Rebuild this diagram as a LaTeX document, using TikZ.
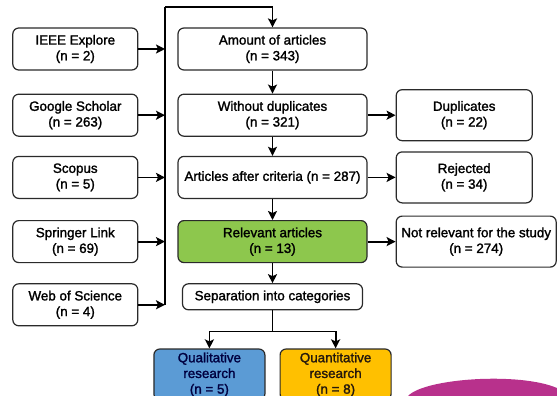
\documentclass[tikz,border=0pt]{standalone}
\usepackage{fontspec}
\setmainfont{Liberation Sans}
\newfontfamily\boxfont[FakeBold=1.6]{Liberation Sans}
\usetikzlibrary{positioning,arrows.meta}
\definecolor{relgreen}{HTML}{8DC74D}
\definecolor{qualblue}{HTML}{5B9BD5}
\definecolor{quantyellow}{HTML}{FFC000}
\definecolor{blobpink}{HTML}{B8318C}
\definecolor{boxline}{HTML}{2A2A2A}
\begin{document}
\begin{tikzpicture}[x=1pt,y=-1pt,
    box/.style={draw=boxline, rounded corners=6pt, line width=1.2pt, align=center,
      inner sep=1pt, font=\boxfont\fontsize{13.4}{15.7}\selectfont},
    mainbox/.style={box, minimum width=189pt, minimum height=42pt},
    srcbox/.style={box, minimum width=125pt, minimum height=42pt},
    outbox/.style={box, minimum width=136pt, minimum height=51pt},
    catbox/.style={box, minimum width=111pt, minimum height=51pt},
    link/.style={line width=1.8pt},
    conn/.style={link, -{Stealth[length=9pt,width=9pt,inset=2pt]}}]
  \useasboundingbox (0,0) rectangle (557,396);

  % decoration in the lower right corner
  \fill[blobpink] (408,396) .. controls (425,378) and (520,372) .. (557,388) -- (557,396) -- cycle;

  % main column
  \node[mainbox] (a1) at (272.5,49) {Amount of articles\\(n = 343)};
  \node[mainbox, below=23pt of a1] (a2) {Without duplicates\\(n = 321)};
  \node[mainbox, below=19pt of a2] (a3) {Articles after criteria (n = 287)};
  \node[mainbox, below=21pt of a3, fill=relgreen] (a4) {Relevant articles\\(n = 13)};
  \node[box, below=20pt of a4, minimum width=180pt, minimum height=26pt] (a5) {Separation into categories};

  % sources
  \node[srcbox, left=39pt of a1] (s1) {IEEE Explore\\(n = 2)};
  \node[srcbox, left=39pt of a2] (s2) {Google Scholar\\(n = 263)};
  \node[srcbox, left=39pt of a3] (s3) {Scopus\\(n = 5)};
  \node[srcbox, left=39pt of a4] (s4) {Springer Link\\(n = 69)};
  \node[srcbox, below=20pt of s4] (s5) {Web of Science\\(n = 4)};

  % removed records
  \node[outbox, right=28pt of a2] (x1) {Duplicates\\(n = 22)};
  \node[outbox, right=28pt of a3] (x2) {Rejected\\(n = 34)};
  \node[outbox, right=28pt of a4, minimum width=160pt] (x3) {Not relevant for the study\\(n = 274)};

  % categories
  \node[catbox, below left=38pt and 7pt of a5.south, fill=qualblue, text=black!75!blue] (q1) {Qualitative\\research\\(n = 5)};
  \node[catbox, below right=38pt and 7pt of a5.south, fill=quantyellow, text=black!80!brown] (q2) {Quantitative\\research\\(n = 8)};

  % collecting line
  \coordinate (bus) at (165,7);
  \draw[link] (bus) -- (bus |- s5.east);
  \draw[conn] (bus) -| (a1.north);
  \foreach \s in {s1,s2,s3,s4,s5}
    \draw[conn] (\s.east) -- (\s.east -| bus);

  \draw[conn] (a1) -- (a2);
  \draw[conn] (a2) -- (a3);
  \draw[conn] (a3) -- (a4);
  \draw[conn] (a4) -- (a5);
  \draw[conn] (a2) -- (x1);
  \draw[conn] (a3) -- (x2);
  \draw[conn] (a4) -- (x3);

  \draw[link] (a5.south) -- ++(0,21) coordinate (split);
  \draw[conn] (split) -| (q1.north);
  \draw[conn] (split) -| (q2.north);
\end{tikzpicture}
\end{document}
